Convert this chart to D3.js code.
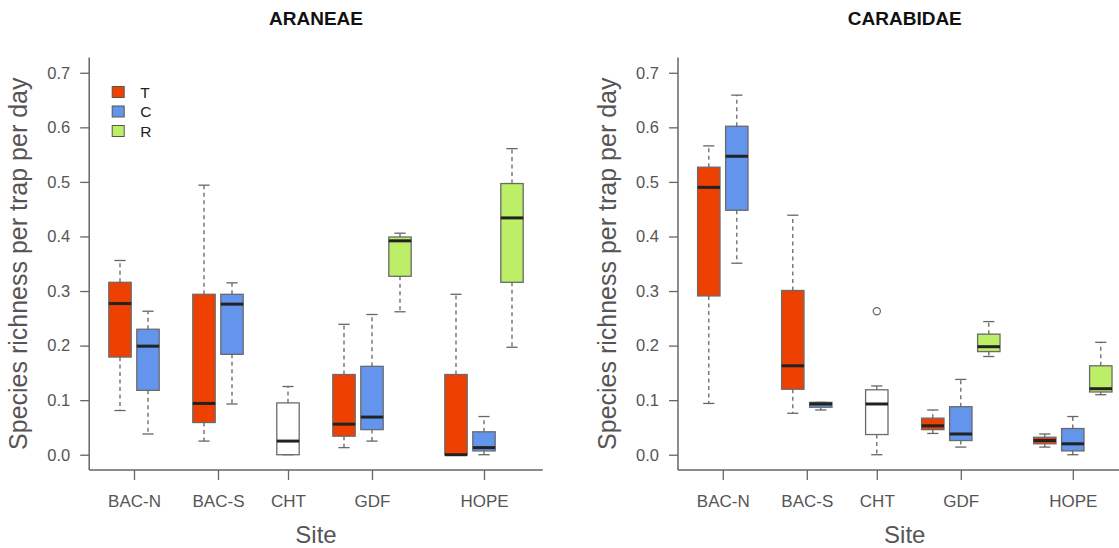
<!DOCTYPE html>
<html>
<head>
<meta charset="utf-8">
<script src="https://cdn.jsdelivr.net/npm/d3@7"></script>
<style>
  body { margin: 0; background: #fff; }
  svg { display: block; font-family: "Liberation Sans", Arial, sans-serif; }
</style>
</head>
<body>
<svg id="chart" width="1119" height="548"></svg>
<script>
// Sites along the x axis and the treatments drawn within each site
const sites = ["BAC-N", "BAC-S", "CHT", "GDF", "HOPE"];
const treatments = ["T", "C", "R"];
const yTickValues = [0, 0.1, 0.2, 0.3, 0.4, 0.5, 0.6, 0.7];

// Box statistics per site/treatment: [site, treatment, lower whisker, Q1, median, Q3, upper whisker]
// CHT has a single box without a treatment
const araneaeStats = [
  ["BAC-N", "T", 0.081, 0.179, 0.277, 0.316, 0.356],
  ["BAC-N", "C", 0.038, 0.118, 0.199, 0.230, 0.263],
  ["BAC-S", "T", 0.025, 0.059, 0.094, 0.294, 0.494],
  ["BAC-S", "C", 0.093, 0.184, 0.276, 0.294, 0.315],
  ["CHT",   "",  0.000, 0.000, 0.025, 0.095, 0.125],
  ["GDF",   "T", 0.013, 0.034, 0.056, 0.147, 0.239],
  ["GDF",   "C", 0.025, 0.046, 0.069, 0.162, 0.257],
  ["GDF",   "R", 0.262, 0.327, 0.392, 0.399, 0.406],
  ["HOPE",  "T", 0.000, 0.000, 0.000, 0.147, 0.294],
  ["HOPE",  "C", 0.000, 0.007, 0.013, 0.042, 0.070],
  ["HOPE",  "R", 0.197, 0.316, 0.434, 0.497, 0.561]
];
const araneaeOutliers = [];

const carabidaeStats = [
  ["BAC-N", "T", 0.094, 0.291, 0.490, 0.527, 0.566],
  ["BAC-N", "C", 0.351, 0.448, 0.547, 0.602, 0.659],
  ["BAC-S", "T", 0.076, 0.120, 0.163, 0.301, 0.439],
  ["BAC-S", "C", 0.082, 0.087, 0.093, 0.096, 0.096],
  ["CHT",   "",  0.000, 0.037, 0.093, 0.119, 0.126],
  ["GDF",   "T", 0.039, 0.046, 0.053, 0.067, 0.082],
  ["GDF",   "C", 0.014, 0.026, 0.038, 0.088, 0.138],
  ["GDF",   "R", 0.180, 0.189, 0.198, 0.221, 0.244],
  ["HOPE",  "T", 0.014, 0.020, 0.026, 0.032, 0.038],
  ["HOPE",  "C", 0.000, 0.007, 0.020, 0.048, 0.070],
  ["HOPE",  "R", 0.110, 0.115, 0.121, 0.163, 0.206]
];
// [site, treatment, value]
const carabidaeOutliers = [["CHT", "", 0.263]];

// Fill colour per treatment (boxes without a treatment are white)
const fillColor = { T: "#EE4000", C: "#6495ED", R: "#BCEE68", "": "#ffffff" };

const svg = d3.select("#chart");
const axisColor = "#666";
const textColor = "#555";

// Slot positions: boxes of one site sit side by side, one empty slot between sites
function layout(stats) {
  let slot = 0, prev = null;
  const boxes = stats.map(d => {
    if (prev !== null && d[0] !== prev) slot += 1;
    slot += 1; prev = d[0];
    return { site: d[0], trt: d[1], lo: d[2], q1: d[3], med: d[4], q3: d[5], hi: d[6], slot };
  });
  const siteCenters = sites.map(s => d3.mean(boxes.filter(b => b.site === s), b => b.slot));
  return { boxes, siteCenters, nSlots: slot };
}

function drawPanel(opts) {
  const { left, title, stats, outliers, legend } = opts;
  const { boxes, siteCenters, nSlots } = layout(stats);
  const ext = nSlots * 0.04;
  const x = d3.scaleLinear().domain([0.5 - ext, nSlots + 0.5 + ext]).range([left, left + 453.6]);
  const y = d3.scaleLinear().domain([-0.028, 0.728]).range([470, 57.5]);
  const g = svg.append("g");
  const u = x(1) - x(0);
  const bw = 0.8 * u;

  // Y axis
  const yAxis = g.append("g").attr("transform", `translate(${left},0)`)
    .call(d3.axisLeft(y).tickValues(yTickValues).tickFormat(d3.format(".1f")).tickSize(9).tickPadding(10));
  yAxis.select(".domain").attr("stroke", axisColor).attr("stroke-width", 1.5)
    .attr("d", `M-0,${y.range()[1]}V${y.range()[0]}`);
  yAxis.selectAll(".tick line").attr("stroke", axisColor).attr("stroke-width", 1.3);
  yAxis.selectAll(".tick text").attr("fill", textColor).style("font-size", "16.5px")
    .style("font-family", "'Liberation Sans', Arial, sans-serif");

  // X axis
  const xAxis = g.append("g").attr("transform", `translate(0,470)`)
    .call(d3.axisBottom(x).tickValues(siteCenters).tickFormat((d, i) => sites[i]).tickSize(10).tickPadding(15));
  xAxis.select(".domain").attr("stroke", axisColor).attr("stroke-width", 1.5)
    .attr("d", `M${x.range()[0]},0H${x.range()[1]}`);
  xAxis.selectAll(".tick line").attr("stroke", axisColor).attr("stroke-width", 1.3);
  xAxis.selectAll(".tick text").attr("fill", textColor).style("font-size", "17px")
    .style("font-family", "'Liberation Sans', Arial, sans-serif");

  // Whiskers (dashed) and staples
  const bg = g.selectAll("g.box").data(boxes).join("g").attr("class", "box");
  bg.append("line")
    .attr("x1", d => x(d.slot)).attr("x2", d => x(d.slot))
    .attr("y1", d => y(d.q3)).attr("y2", d => y(d.hi))
    .attr("stroke", axisColor).attr("stroke-width", 1.3).attr("stroke-dasharray", "4,3.5");
  bg.append("line")
    .attr("x1", d => x(d.slot)).attr("x2", d => x(d.slot))
    .attr("y1", d => y(d.q1)).attr("y2", d => y(d.lo))
    .attr("stroke", axisColor).attr("stroke-width", 1.3).attr("stroke-dasharray", "4,3.5");
  ["hi", "lo"].forEach(k => {
    bg.append("line")
      .attr("x1", d => x(d.slot) - bw / 4).attr("x2", d => x(d.slot) + bw / 4)
      .attr("y1", d => y(d[k])).attr("y2", d => y(d[k]))
      .attr("stroke", axisColor).attr("stroke-width", 1.3);
  });
  // Boxes
  bg.append("rect")
    .attr("x", d => x(d.slot) - bw / 2).attr("width", bw)
    .attr("y", d => y(d.q3)).attr("height", d => Math.max(0, y(d.q1) - y(d.q3)))
    .attr("fill", d => fillColor[d.trt]).attr("stroke", "#6a6a6a").attr("stroke-width", 1.3);
  // Medians
  bg.append("line")
    .attr("x1", d => x(d.slot) - bw / 2).attr("x2", d => x(d.slot) + bw / 2)
    .attr("y1", d => y(d.med)).attr("y2", d => y(d.med))
    .attr("stroke", "#222").attr("stroke-width", 3);

  // Outliers
  g.selectAll("circle.out").data(outliers).join("circle").attr("class", "out")
    .attr("cx", d => x(boxes.find(b => b.site === d[0] && b.trt === d[1]).slot))
    .attr("cy", d => y(d[2])).attr("r", 3.6)
    .attr("fill", "none").attr("stroke", axisColor).attr("stroke-width", 1.2);

  // Title and axis labels
  const cx = (x.range()[0] + x.range()[1]) / 2;
  g.append("text").attr("x", cx).attr("y", 25).attr("text-anchor", "middle")
    .style("font-size", "19px").style("font-weight", "bold").attr("fill", "#111").text(title);
  g.append("text").attr("x", cx).attr("y", 543).attr("text-anchor", "middle")
    .style("font-size", "24px").attr("fill", textColor).text("Site");
  g.append("text").attr("transform", `translate(${left - 62},${(57.5 + 470) / 2}) rotate(-90)`)
    .attr("text-anchor", "middle").style("font-size", "25px").attr("fill", textColor)
    .text("Species richness per trap per day");

  if (legend) {
    const lg = g.append("g").attr("transform", `translate(${left + 23},92)`);
    treatments.forEach((t, i) => {
      lg.append("rect").attr("x", 0).attr("y", i * 19.5 - 5.5).attr("width", 12).attr("height", 11)
        .attr("fill", fillColor[t]).attr("stroke", "#555").attr("stroke-width", 1);
      lg.append("text").attr("x", 28).attr("y", i * 19.5 + 5.5)
        .style("font-size", "15.5px").attr("fill", "#222").text(t);
    });
  }
}

drawPanel({ left: 89.2, title: "ARANEAE", stats: araneaeStats, outliers: araneaeOutliers, legend: true });
drawPanel({ left: 678, title: "CARABIDAE", stats: carabidaeStats, outliers: carabidaeOutliers, legend: false });
</script>
</body>
</html>
